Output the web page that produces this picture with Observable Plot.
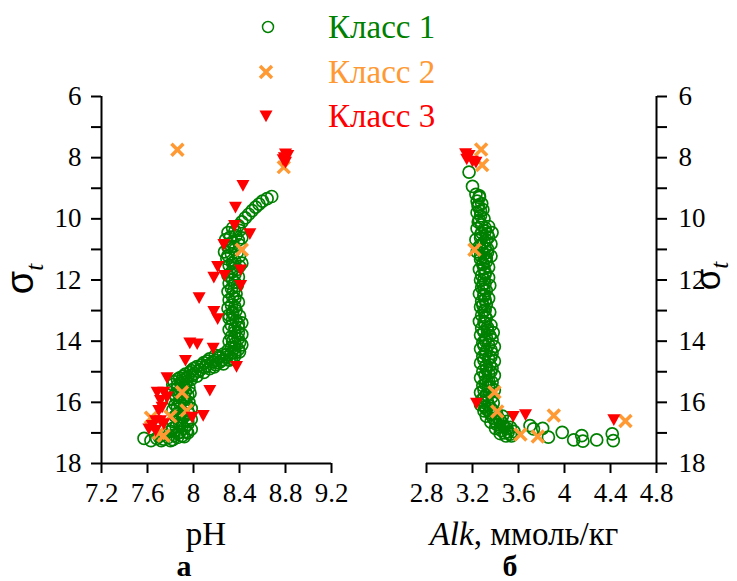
<!DOCTYPE html>
<html><head><meta charset="utf-8">
<script src="https://cdn.jsdelivr.net/npm/d3@7"></script>
<script src="https://cdn.jsdelivr.net/npm/@observablehq/plot@0.6"></script>
<style>
html,body{margin:0;padding:0;background:#fff;}
#chart{position:relative;width:737px;height:581px;overflow:hidden;}
#chart svg{position:absolute;left:0;top:0;}
</style></head><body><div id="chart"></div>
<script>
// ---- data: [value, sigma_t] ----
const classNames = ["Класс 1", "Класс 2", "Класс 3"];
const classColors = ["#008000", "#ff9933", "#ff0000"];
const sigmaTicks = [6, 7, 8, 9, 10, 11, 12, 13, 14, 15, 16, 17, 18];
const phTicks = [7.2, 7.6, 8, 8.4, 8.8, 9.2];
const alkTicks = [2.8, 3.2, 3.6, 4, 4.4, 4.8];

const phClass1 = [
 [8.68,9.27],[8.64,9.34],[8.60,9.42],[8.57,9.52],[8.54,9.62],[8.51,9.73],[8.48,9.85],[8.45,9.97],[8.42,10.1],[8.39,10.22],
 [8.34,10.3],[8.40,10.38],[8.30,10.45],[8.37,10.55],[8.42,10.62],[8.28,10.68],[8.34,10.75],[8.40,10.85],[8.30,10.92],[8.36,11.0],
 [8.27,11.08],[8.33,11.15],[8.40,11.22],[8.29,11.3],[8.36,11.38],[8.42,11.45],[8.31,11.52],[8.27,11.6],[8.38,11.65],
 [8.33,11.75],[8.30,11.85],[8.39,11.9],[8.34,12.0],[8.31,12.1],[8.38,12.18],[8.33,12.28],[8.30,12.38],[8.37,12.45],[8.34,12.55],
 [8.31,12.65],[8.39,12.72],[8.33,12.82],[8.30,12.92],[8.37,13.0],[8.34,13.1],[8.40,13.18],
 [8.31,13.25],[8.37,13.32],[8.42,13.4],[8.33,13.48],[8.39,13.55],[8.31,13.62],[8.36,13.7],[8.42,13.78],[8.33,13.85],[8.39,13.92],
 [8.31,14.0],[8.36,14.08],[8.42,14.12],[8.33,14.2],[8.39,14.27],
 [8.40,14.35],[8.33,14.38],[8.26,14.42],[8.19,14.46],[8.36,14.48],[8.29,14.52],[8.22,14.55],[8.14,14.58],[8.31,14.62],[8.24,14.65],
 [8.17,14.68],[8.09,14.7],[8.26,14.74],[8.19,14.77],[8.11,14.8],[8.03,14.83],[8.14,14.9],[8.06,14.93],[7.98,14.96],[8.09,15.02],
 [8.01,15.05],[7.93,15.08],[8.03,15.14],[7.95,15.17],[7.88,15.2],
 [7.98,15.25],[7.90,15.28],[7.83,15.32],[7.93,15.4],[7.86,15.45],[7.96,15.52],[7.82,15.58],[7.90,15.62],[7.97,15.7],[7.84,15.75],
 [7.92,15.82],[7.81,15.9],[7.88,15.95],[7.96,16.0],[7.84,16.08],[7.92,16.12],[7.98,16.2],[7.82,16.25],[7.89,16.3],[7.96,16.38],
 [7.84,16.45],[7.91,16.5],[7.98,16.55],[7.82,16.62],[7.88,16.68],[7.95,16.72],[7.85,16.8],[7.92,16.85],[7.98,16.88],
 [7.80,16.95],[7.88,16.98],[7.95,17.0],[7.75,17.05],[7.83,17.08],[7.90,17.1],[7.70,17.12],[7.78,17.15],[7.86,17.15],
 [7.57,17.18],[7.63,17.25],[7.68,17.18],[7.74,17.2],[7.80,17.25],
 [8.36,10.4],[8.32,10.6],[8.39,10.7],[8.33,10.9],[8.38,11.1],[8.30,11.2],[8.34,11.45],[8.40,11.55],[8.35,11.62],
 [8.36,11.8],[8.36,12.08],[8.35,12.35],[8.36,12.6],[8.36,12.88],[8.34,13.05],[8.31,13.15],
 [8.34,13.3],[8.39,13.45],[8.36,13.58],[8.39,13.72],[8.36,13.88],[8.34,14.0],[8.40,14.05],[8.36,14.22],[8.30,14.3],
 [8.36,14.38],[8.29,14.44],[8.22,14.5],[8.33,14.56],[8.26,14.6],[8.19,14.63],[8.12,14.65],[8.22,14.7],[8.15,14.73],[8.07,14.78],
 [8.18,14.84],[8.10,14.86],[8.00,14.9],[8.04,14.99],[7.97,15.03],[7.99,15.12],[7.91,15.14],[7.93,15.22],
 [7.86,15.25],[7.94,15.33],[7.89,15.38],[7.82,15.42],[7.92,15.5],[7.86,15.55],[7.93,15.65],[7.87,15.72],[7.95,15.78],[7.85,15.85],
 [7.91,15.9],[7.88,16.03],[7.94,16.06],[7.86,16.15],[7.95,16.28],[7.86,16.35],[7.92,16.42],[7.88,16.58],[7.95,16.62],[7.90,16.78],
 [7.82,16.85],[7.94,16.95],[7.86,17.02],[7.92,17.12],[7.82,17.22],[7.72,17.25]
];
const phClass2 = [
 [7.86,7.74],[8.785,8.31],[8.42,11.01],[7.90,15.67],[7.94,16.27],[7.80,16.46],[7.74,17.09],[7.63,16.5],[7.70,17.0]
];
const phClass3 = [
 [8.80,7.88],[8.82,7.93],[8.79,8.0],[8.78,8.07],[8.80,8.15],[8.43,8.91],[8.365,9.62],[8.357,10.22],[8.49,10.49],[8.264,10.84],
 [8.21,11.56],[8.41,11.67],[8.177,11.91],[8.27,11.85],[8.41,12.18],[8.049,12.58],[8.177,13.03],[8.21,13.27],[7.968,14.06],[8.032,14.09],
 [8.171,14.23],[7.93,14.63],[8.374,14.83],[7.77,15.20],[8.142,15.61],[7.742,15.67],[7.684,15.67],[7.771,15.83],[7.713,15.94],[7.727,16.16],
 [7.698,16.27],[7.67,16.6],[7.713,16.6],[7.641,16.76],[7.612,16.87],[7.67,16.92],[7.742,16.7],[7.988,16.49],[8.084,16.43]
];

const alkClass1 = [
 [3.17,8.47],[3.20,8.94],
 [3.23,9.2],[3.26,9.3],[3.24,9.42],[3.28,9.5],[3.25,9.6],[3.29,9.7],[3.24,9.8],[3.27,9.9],[3.30,10.0],[3.25,10.1],
 [3.28,10.2],[3.34,10.25],[3.24,10.32],[3.31,10.4],[3.37,10.45],[3.27,10.52],[3.34,10.6],[3.23,10.68],[3.30,10.75],[3.36,10.82],
 [3.26,10.9],[3.33,10.98],[3.24,11.08],[3.30,11.15],[3.36,11.22],
 [3.27,11.32],[3.32,11.4],[3.29,11.5],[3.34,11.58],[3.26,11.65],[3.31,11.75],[3.28,11.85],[3.34,11.92],[3.27,12.0],[3.31,12.1],
 [3.35,12.18],[3.28,12.25],[3.32,12.35],[3.26,12.45],[3.30,12.52],[3.34,12.6],[3.28,12.7],[3.32,12.8],[3.27,12.88],[3.31,12.98],
 [3.35,13.05],[3.28,13.15],[3.32,13.25],
 [3.26,13.35],[3.31,13.42],[3.36,13.48],[3.28,13.58],[3.33,13.65],[3.38,13.72],[3.27,13.8],[3.32,13.88],[3.37,13.95],[3.29,14.05],
 [3.34,14.12],[3.39,14.18],[3.27,14.25],[3.32,14.32],[3.37,14.4],[3.29,14.5],[3.34,14.58],[3.39,14.65],[3.27,14.72],[3.32,14.8],
 [3.37,14.88],[3.29,14.98],[3.34,15.05],[3.39,15.12],[3.27,15.2],[3.32,15.28],[3.37,15.35],[3.29,15.45],[3.34,15.52],[3.39,15.6],
 [3.27,15.68],[3.32,15.75],[3.37,15.82],
 [3.28,15.92],[3.33,15.98],[3.38,16.02],[3.27,16.08],[3.31,16.15],[3.36,16.2],[3.30,16.28],[3.35,16.33],[3.41,16.38],[3.46,16.45],
 [3.32,16.45],[3.38,16.52],[3.44,16.58],[3.50,16.62],[3.36,16.65],[3.41,16.72],[3.47,16.78],[3.53,16.82],[3.40,16.85],[3.45,16.92],
 [3.51,16.97],[3.56,16.95],[3.44,17.02],[3.49,17.1],[3.54,17.1],
 [3.70,16.76],[3.73,16.87],[3.81,16.85],[3.86,17.14],[3.98,16.98],[4.08,17.23],[4.15,17.09],[4.16,17.27],[4.28,17.23],[4.415,17.03],[4.424,17.25],
 [3.26,9.25],[3.25,9.55],[3.27,9.75],[3.26,10.05],
 [3.31,10.3],[3.28,10.45],[3.33,10.5],[3.27,10.62],[3.32,10.7],[3.28,10.85],[3.31,10.95],[3.28,11.02],[3.33,11.1],[3.27,11.2],[3.32,11.28],
 [3.31,11.32],[3.29,11.45],[3.30,11.62],[3.31,11.8],[3.30,11.98],[3.29,12.15],[3.30,12.3],[3.30,12.48],[3.31,12.65],[3.29,12.82],[3.30,13.02],[3.31,13.2],
 [3.30,13.38],[3.33,13.55],[3.30,13.7],[3.35,13.82],[3.31,13.98],[3.30,14.15],[3.36,14.28],[3.31,14.42],[3.36,14.52],[3.30,14.62],
 [3.35,14.78],[3.32,14.92],[3.36,15.0],[3.31,15.12],[3.34,15.3],[3.31,15.4],[3.36,15.5],[3.30,15.6],[3.35,15.7],[3.30,15.85],
 [3.30,16.0],[3.34,16.1],[3.32,16.22],[3.38,16.28],[3.36,16.4],[3.42,16.5],[3.40,16.62],[3.46,16.68],[3.44,16.8],[3.50,16.86],[3.48,17.0],[3.53,17.04]
];
const alkClass2 = [
 [3.275,7.73],[3.284,8.24],[3.217,11.01],[3.391,15.67],[3.415,16.30],[3.907,16.43],[4.53,16.61],[3.617,17.05],[3.768,17.12]
];
const alkClass3 = [
 [3.14,7.87],[3.17,7.93],[3.15,8.05],[3.20,8.12],[3.23,8.15],[3.235,16.03],[3.554,16.46],[3.661,16.41],[4.429,16.57]
];

// ---- drawing ----
const W = 737, H = 581;
const serif = "'Liberation Serif','Times New Roman',serif";
const triDown = {draw(ctx, size) {
  const a = Math.sqrt(size / Math.PI);
  ctx.moveTo(-a, -a * 0.85); ctx.lineTo(a, -a * 0.85); ctx.lineTo(0, a * 0.95); ctx.closePath();
}};

function panel({c1, c2, c3, xTicks, marginLeft, marginRight, side}) {
  const xDomain = [xTicks[0], xTicks[xTicks.length - 1]];
  return Plot.plot({
    width: W, height: H, marginTop: 96, marginBottom: 118, marginLeft, marginRight,
    style: {fontFamily: serif, fontSize: "27px", color: "#000", background: "transparent", overflow: "visible"},
    x: {domain: xDomain},
    y: {domain: [6, 18], reverse: true},
    marks: [
      Plot.axisX({ticks: xTicks, tickSize: 10, tickPadding: 9, tickFormat: d => String(d), label: null, strokeWidth: 2}),
      Plot.axisY({anchor: side, ticks: sigmaTicks, tickSize: 10, tickPadding: side === "left" ? 10 : 12,
        tickFormat: d => d % 2 === 0 ? String(d) : "", label: null, strokeWidth: 2}),
      Plot.ruleY([18], {strokeWidth: 2}),
      Plot.ruleX([side === "left" ? xDomain[0] : xDomain[1]], {strokeWidth: 2}),
      Plot.dot(c1, {x: d => d[0], y: d => d[1], r: 6, stroke: classColors[0], strokeWidth: 1.7, fill: "none"}),
      Plot.dot(c2, {x: d => d[0], y: d => d[1], symbol: "times", r: 5.5, stroke: classColors[1], strokeWidth: 3.5}),
      Plot.dot(c3, {x: d => d[0], y: d => d[1], symbol: triDown, r: 6.5, fill: classColors[2], stroke: "none"})
    ]
  });
}

const chart = document.getElementById("chart");
chart.appendChild(panel({c1: phClass1, c2: phClass2, c3: phClass3, xTicks: phTicks, marginLeft: 101, marginRight: W - 331, side: "left"}));
chart.appendChild(panel({c1: alkClass1, c2: alkClass2, c3: alkClass3, xTicks: alkTicks, marginLeft: 426, marginRight: W - 656, side: "right"}));

// overlay: legend and titles
const svg = d3.select(chart).append("svg").attr("width", W).attr("height", H)
  .attr("font-family", serif);

const legendRows = [38, 83, 127];
classNames.forEach((name, i) => {
  const cy = legendRows[i] - 11;
  if (i === 0) svg.append("circle").attr("cx", 268).attr("cy", cy).attr("r", 5.5)
    .attr("fill", "none").attr("stroke", classColors[0]).attr("stroke-width", 1.5);
  if (i === 1) svg.append("path").attr("transform", `translate(266,${cy})`)
    .attr("d", d3.symbol(d3.symbolTimes, Math.PI * 5.5 * 5.5)()).attr("stroke", classColors[1]).attr("stroke-width", 3.5).attr("fill", "none");
  if (i === 2) svg.append("path").attr("transform", `translate(266,${cy})`)
    .attr("d", d3.symbol(triDown, Math.PI * 6.5 * 6.5)()).attr("fill", classColors[2]);
  svg.append("text").attr("x", 328).attr("y", legendRows[i]).attr("font-size", 33)
    .attr("fill", classColors[i]).text(name);
});

function sigmaLabel(x, y, size, shift) {
  const t = svg.append("text").attr("transform", `translate(${x},${y}) rotate(-90)`).attr("text-anchor", "middle");
  t.append("tspan").attr("font-family", "'Liberation Sans',Arial,sans-serif").attr("font-size", size).text("σ");
  t.append("tspan").attr("font-style", "italic").attr("font-size", 25).attr("dy", shift).text("t");
}
sigmaLabel(33, 279, 38, 10);
sigmaLabel(720, 276, 35, 8);

svg.append("text").attr("x", 206).attr("y", 545).attr("text-anchor", "middle").attr("font-size", 33).text("pH");
const alk = svg.append("text").attr("x", 524).attr("y", 545).attr("text-anchor", "middle").attr("font-size", 33);
alk.append("tspan").attr("font-style", "italic").text("Alk");
alk.append("tspan").text(", ммоль/кг");
svg.append("text").attr("x", 184).attr("y", 576).attr("text-anchor", "middle").attr("font-size", 30).attr("font-weight", "bold").text("а");
svg.append("text").attr("x", 510).attr("y", 576).attr("text-anchor", "middle").attr("font-size", 30).attr("font-weight", "bold").text("б");
</script></body></html>
